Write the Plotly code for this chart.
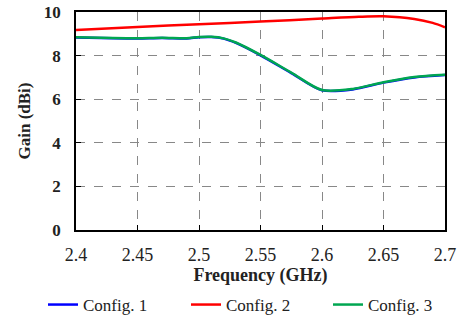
import plotly.graph_objects as go

freq_c1 = [2.40, 2.43, 2.45, 2.47, 2.49, 2.50, 2.51, 2.52, 2.53, 2.55, 2.575, 2.60, 2.625, 2.65, 2.675, 2.70]
gain_c1 = [8.83, 8.80, 8.79, 8.81, 8.79, 8.84, 8.85, 8.78, 8.58, 8.01, 7.20, 6.41, 6.45, 6.76, 7.00, 7.11]

freq_c2 = [2.40, 2.45, 2.50, 2.55, 2.60, 2.63, 2.65, 2.675, 2.69, 2.70]
gain_c2 = [9.17, 9.31, 9.44, 9.56, 9.70, 9.78, 9.80, 9.68, 9.50, 9.30]

freq_c3 = [2.40, 2.43, 2.45, 2.47, 2.49, 2.50, 2.51, 2.52, 2.53, 2.55, 2.575, 2.60, 2.625, 2.65, 2.675, 2.70]
gain_c3 = [8.84, 8.81, 8.80, 8.82, 8.80, 8.85, 8.86, 8.79, 8.60, 8.03, 7.22, 6.42, 6.47, 6.78, 7.02, 7.12]

x_ticks = [2.4, 2.45, 2.5, 2.55, 2.6, 2.65, 2.7]
x_ticklabels = ["2.4", "2.45", "2.5", "2.55", "2.6", "2.65", "2.7"]
y_ticks = [0, 2, 4, 6, 8, 10]

font_family = "Liberation Serif"

fig = go.Figure()
fig.add_trace(go.Scatter(x=freq_c1, y=gain_c1, mode="lines", name="Config. 1", legend="legend",
                         line=dict(color="#0000ff", width=2.5, shape="spline", smoothing=0.8)))
fig.add_trace(go.Scatter(x=freq_c2, y=gain_c2, mode="lines", name="Config. 2", legend="legend2",
                         line=dict(color="#ff0000", width=2.5, shape="spline", smoothing=0.8)))
fig.add_trace(go.Scatter(x=freq_c3, y=gain_c3, mode="lines", name="Config. 3", legend="legend3",
                         line=dict(color="#00a651", width=2.5, shape="spline", smoothing=0.8)))

axis_common = dict(
    showline=True, linecolor="black", linewidth=1.5, mirror=True,
    showgrid=True, gridcolor="#888888", griddash="dash", gridwidth=1,
    ticks="inside", ticklen=5, tickcolor="black", zeroline=False,
)

fig.update_xaxes(range=[2.4, 2.7], tickvals=x_ticks, ticktext=x_ticklabels,
                 tickfont=dict(family=font_family, size=18, color="#222"),
                 ticklabelstandoff=8,
                 title=dict(text="<b>Frequency (GHz)</b>", font=dict(family=font_family, size=18, color="#222"), standoff=4),
                 **axis_common)
fig.update_yaxes(range=[0, 10], tickvals=y_ticks, ticktext=[f"<b>{v}</b>" for v in y_ticks],
                 tickfont=dict(family=font_family, size=17, color="#222"),
                 ticklabelstandoff=10,
                 title=dict(text="<b>Gain (dBi)</b>", font=dict(family=font_family, size=17, color="#222"), standoff=9),
                 **axis_common)

leg_common = dict(orientation="h", xanchor="left", xref="container",
                  y=(322 - 305) / 322, yanchor="middle", yref="container",
                  font=dict(family=font_family, size=17, color="#222"),
                  itemwidth=30, bgcolor="rgba(0,0,0,0)")

fig.update_layout(
    width=465, height=322,
    margin=dict(l=76, r=20, t=12, b=92, autoexpand=False),
    plot_bgcolor="white", paper_bgcolor="white",
    font=dict(family=font_family, color="#222"),
    legend=dict(x=43 / 465, **leg_common),
    legend2=dict(x=186 / 465, **leg_common),
    legend3=dict(x=328 / 465, **leg_common),
    showlegend=True,
)

fig.write_html("out.html", config={"displayModeBar": False},
               post_script="document.body.style.margin='0px';")
